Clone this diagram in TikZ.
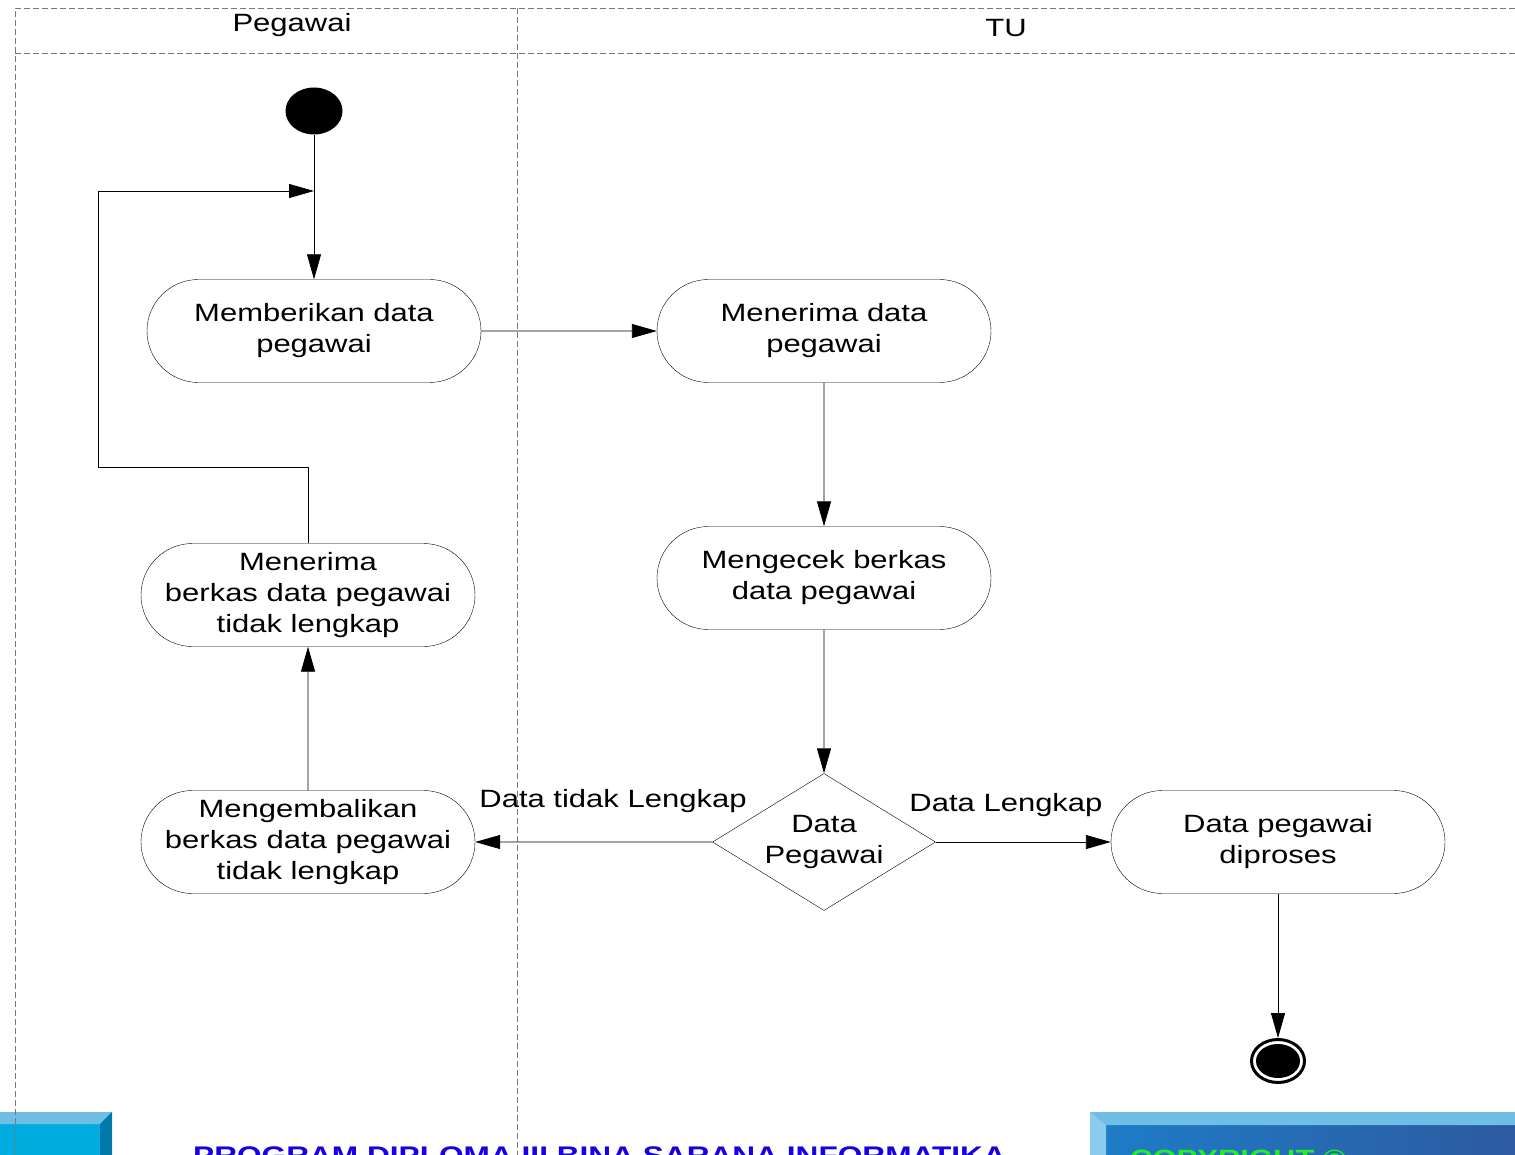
\documentclass[tikz,border=0pt]{standalone}
\usepackage{fontspec}
\setmainfont[FakeStretch=1.24]{Liberation Sans}
\usetikzlibrary{shapes.misc,shapes.geometric,arrows.meta}
\definecolor{lanegray}{RGB}{120,120,120}
\definecolor{bnrcyan}{RGB}{0,172,224}
\definecolor{bnrlight}{RGB}{110,190,230}
\definecolor{bnrdark}{RGB}{0,120,170}
\definecolor{bnrblue}{RGB}{30,125,200}
\definecolor{bnrnavy}{RGB}{45,90,160}
\definecolor{bnrtext}{RGB}{25,0,225}
\definecolor{bnrgreen}{RGB}{40,235,40}

\begin{document}
\begin{tikzpicture}
  [x=1pt,y=-1pt,every node/.style={font=\fontsize{25}{31}\selectfont},
   act/.style={rounded rectangle,draw,align=center,minimum width=334pt,
     minimum height=103pt,inner sep=0pt},
   dec/.style={diamond,draw,align=center,shape aspect=1.63,minimum width=223pt,
     minimum height=137pt,inner sep=0pt},
   arr/.style={-{Triangle[length=25pt,width=14pt]},line width=0.9pt},
   lane/.style={draw=lanegray,dash pattern=on 6pt off 3pt,line width=0.9pt}]
  \useasboundingbox (0,0) rectangle (1515,1155);
  \clip (0,0) rectangle (1515,1155);

  % banner
  \fill[bnrcyan] (0,1112) rectangle (112,1160);
  \fill[bnrlight] (0,1112) -- (112,1112) -- (100,1124) -- (0,1124) -- cycle;
  \fill[bnrdark] (100,1124) -- (112,1112) -- (112,1160) -- (100,1160) -- cycle;
  \shade[left color=bnrblue,right color=bnrnavy] (1090,1112) rectangle (1515,1160);
  \fill[bnrlight] (1090,1112) -- (1515,1112) -- (1515,1125) -- (1106,1125) -- cycle;
  \fill[bnrlight!80!white] (1090,1112) -- (1106,1125) -- (1106,1160) -- (1090,1160) -- cycle;
  \node[anchor=base west,inner sep=0pt,text=bnrtext,
    font=\fontsize{25.5}{26}\selectfont\bfseries] (bnr) at (193,1164)
    {PROGRAM DIPLOMA III BINA SARANA INFORMATIKA};
  \node[anchor=base west,inner sep=0pt,text=bnrgreen,
    font=\fontsize{25}{26}\selectfont\bfseries] (cpy) at (1130,1167)
    {COPYRIGHT \textcopyright};

  % lanes
  \draw[lane] (15,1160) -- (15,8) -- (1515,8);
  \draw[lane] (15,53) -- (1515,53);
  \draw[lane] (517,8) -- (517,1160);
  \node (h1) at (292,25) {Pegawai};
  \node (h2) at (1006,28) {TU};

  % nodes
  \node[ellipse,fill,minimum width=57pt,minimum height=47pt,inner sep=0pt] (mulai) at (314,111) {};
  \node[act] (beri)    at (314,331)  {Memberikan data\\pegawai};
  \node[act] (terima)  at (824,331)  {Menerima data\\pegawai};
  \node[act] (cek)     at (824,578)  {Mengecek berkas\\data pegawai};
  \node[dec] (dp)      at (824,842)  {Data\\Pegawai};
  \node[act] (proses)  at (1278,842) {Data pegawai\\diproses};
  \node[act] (kembali) at (308,842)  {Mengembalikan\\berkas data pegawai\\tidak lengkap};
  \node[act] (tolak)   at (308,595)  {Menerima\\berkas data pegawai\\tidak lengkap};
  \node[ellipse,draw,line width=3pt,minimum width=53pt,minimum height=43pt,inner sep=0pt] (selesai) at (1278,1061) {};
  \node[ellipse,fill,minimum width=44pt,minimum height=34pt,inner sep=0pt] (selesai2) at (1278,1061) {};

  \node (lbl1) at (613,801) {Data tidak Lengkap};
  \node (lbl2) at (1006,805) {Data Lengkap};

  \coordinate (k1) at (98,467);
  \coordinate (k2) at (314,191);

  \foreach \from/\to in {mulai/beri,beri/terima,terima/cek,cek/dp,dp/kembali,dp/proses,proses/selesai,kembali/tolak}
    \draw [arr] (\from) -- (\to);
  \draw [arr] (tolak.north) |- (k1) |- (k2);
\end{tikzpicture}
\end{document}
